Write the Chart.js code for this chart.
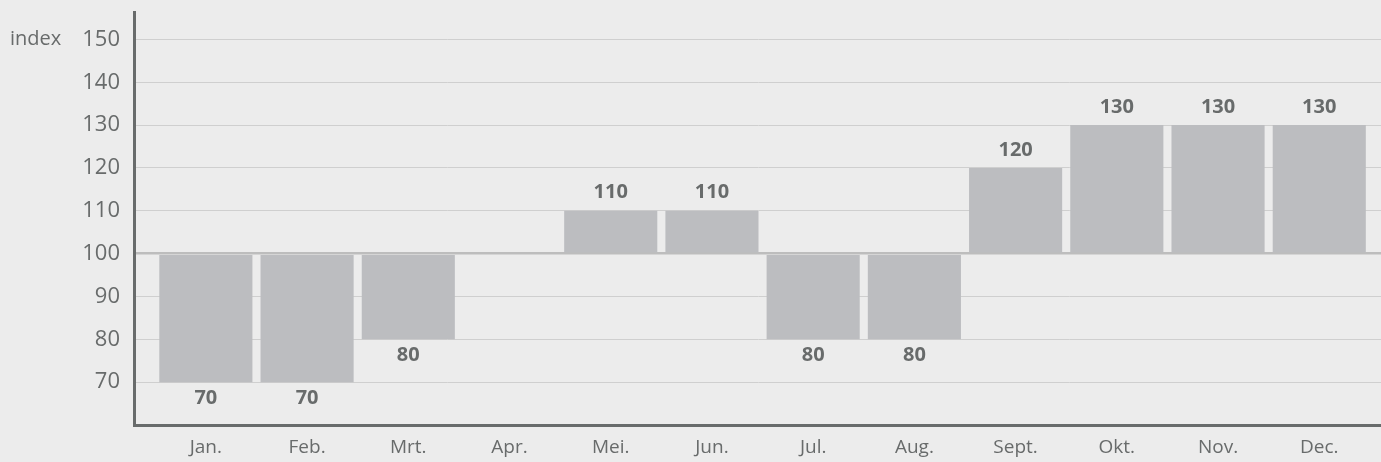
<!DOCTYPE html>
<html>
<head>
<meta charset="utf-8">
<script src="https://cdn.jsdelivr.net/npm/chart.js@4/dist/chart.umd.min.js"></script>
<style>
  html, body { margin: 0; padding: 0; background: #ececec; }
  #wrap { width: 1381px; height: 462px; position: relative; }
</style>
</head>
<body>
<div id="wrap"><canvas id="chart"></canvas></div>
<script>
const months = ['Jan.', 'Feb.', 'Mrt.', 'Apr.', 'Mei.', 'Jun.', 'Jul.', 'Aug.', 'Sept.', 'Okt.', 'Nov.', 'Dec.'];
const indexValues = [70, 70, 80, 100, 110, 110, 80, 80, 120, 130, 130, 130];
const yTicks = [70, 80, 90, 100, 110, 120, 130, 140, 150];
const baseValue = 100;

const textColor = '#686b6b';
const fontFamily = '"Open Sans", "Noto Sans", sans-serif';

// value labels below/above each bar plus the "index" unit label
const valueLabels = {
  id: 'valueLabels',
  afterDatasetsDraw(chart) {
    const ctx = chart.ctx;
    const yScale = chart.scales.y;
    const meta = chart.getDatasetMeta(0);
    ctx.save();
    ctx.font = 'bold 20px ' + fontFamily;
    ctx.fillStyle = textColor;
    ctx.textAlign = 'center';
    ctx.textBaseline = 'middle';
    meta.data.forEach((bar, i) => {
      const v = indexValues[i];
      if (v === baseValue) return;
      const y = yScale.getPixelForValue(v);
      ctx.fillText(String(v), bar.x, v > baseValue ? y - 18 : y + 16);
    });
    ctx.font = '20px ' + fontFamily;
    ctx.textAlign = 'left';
    ctx.fillText('index', 10, yScale.getPixelForValue(150));
    ctx.restore();
  }
};

new Chart(document.getElementById('chart'), {
  type: 'bar',
  data: {
    datasets: [{
      data: indexValues.map((v, i) => ({ x: i, y: v })),
      base: baseValue,
      backgroundColor: '#bcbdc0',
      borderWidth: 0,
      categoryPercentage: 1,
      barPercentage: 0.92
    }]
  },
  options: {
    responsive: true,
    maintainAspectRatio: false,
    animation: false,
    layout: { padding: { top: 12, left: 0, right: 0, bottom: 0 } },
    plugins: { legend: { display: false }, tooltip: { enabled: false } },
    scales: {
      x: {
        type: 'linear',
        offset: false,
        min: -0.71,
        max: 11.61,
        afterBuildTicks: scale => { scale.ticks = months.map((m, i) => ({ value: i })); },
        afterFit: scale => { scale.height = 37; scale.paddingLeft = 0; scale.paddingRight = 0; },
        grid: { display: false, drawTicks: false },
        border: { display: true, color: '#686b6b', width: 3 },
        ticks: {
          autoSkip: false,
          maxRotation: 0,
          padding: 11,
          color: textColor,
          font: { family: fontFamily, size: 19 },
          callback: v => months[v]
        }
      },
      y: {
        min: 60,
        max: 156.4,
        afterBuildTicks: scale => { scale.ticks = yTicks.map(v => ({ value: v })); },
        afterFit: scale => { scale.width = 134; scale.paddingTop = 0; scale.paddingBottom = 0; },
        grid: {
          drawTicks: false,
          color: ctx => ctx.tick && ctx.tick.value === baseValue ? '#bdbdbd' : '#cfcfcf',
          lineWidth: ctx => ctx.tick && ctx.tick.value === baseValue ? 2.5 : 1
        },
        border: { display: true, color: '#686b6b', width: 3 },
        ticks: {
          padding: 14,
          color: textColor,
          font: { family: fontFamily, size: 22 }
        }
      }
    }
  },
  plugins: [valueLabels]
});
</script>
</body>
</html>
